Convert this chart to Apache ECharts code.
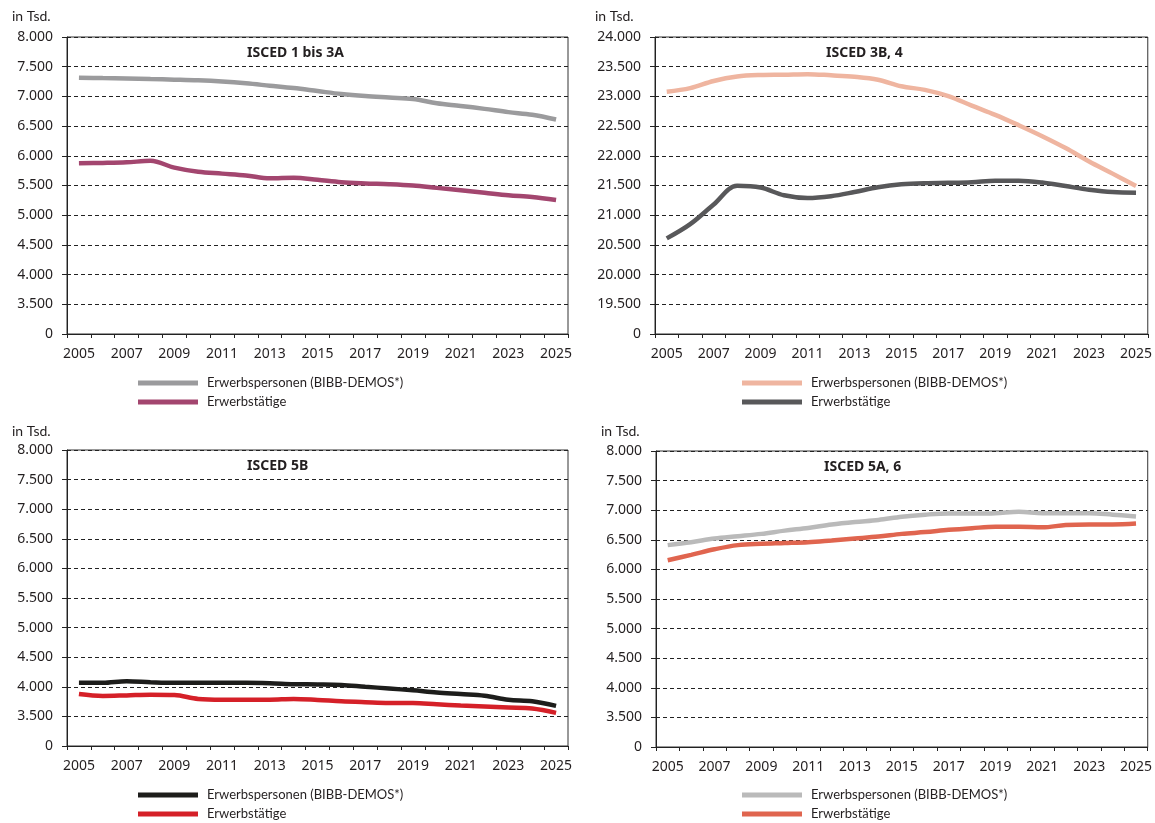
<!DOCTYPE html>
<html>
<head>
<meta charset="utf-8">
<script src="https://cdn.jsdelivr.net/npm/echarts@6/dist/echarts.min.js"></script>
<style>html,body{margin:0;padding:0;background:#fff}#c{width:1155px;height:823px}</style>
</head>
<body>
<div id="c"></div>
<script>
// ---- data ----
const years = ['2005','2006','2007','2008','2009','2010','2011','2012','2013','2014','2015','2016','2017','2018','2019','2020','2021','2022','2023','2024','2025'];

const seriesNames = ['Erwerbspersonen (BIBB-DEMOS*)', 'Erwerbstätige'];
const panelTitles = ['ISCED 1 bis 3A', 'ISCED 3B, 4', 'ISCED 5B', 'ISCED 5A, 6'];
const unitLabel = 'in Tsd.';

// ISCED 1 bis 3A
const p1Personen = [7315,7308,7302,7292,7282,7270,7250,7220,7180,7140,7090,7040,7005,6980,6955,6885,6840,6790,6735,6690,6610];
const p1Taetige  = [5875,5880,5890,5915,5800,5730,5700,5670,5620,5630,5595,5555,5535,5522,5500,5460,5420,5378,5335,5305,5255];
// ISCED 3B, 4
const p2Personen = [23080,23140,23260,23335,23360,23365,23375,23355,23330,23280,23170,23110,23005,22845,22690,22515,22330,22130,21905,21700,21490];
const p2Taetige  = [20610,20850,21180,21495,21465,21335,21290,21320,21390,21470,21520,21540,21545,21555,21580,21580,21550,21490,21430,21390,21380];
// ISCED 5B
const p3Personen = [4067,4067,4095,4078,4067,4067,4067,4067,4060,4045,4040,4030,4000,3972,3940,3905,3878,3850,3780,3755,3678];
const p3Taetige  = [3878,3845,3855,3867,3860,3795,3783,3783,3783,3795,3778,3755,3740,3728,3728,3705,3683,3667,3650,3633,3560];
// ISCED 5A, 6
const p4Personen = [6410,6460,6522,6560,6600,6655,6700,6757,6800,6835,6890,6925,6945,6945,6950,6972,6950,6950,6950,6925,6893];
const p4Taetige  = [6155,6245,6340,6410,6432,6445,6460,6490,6522,6555,6600,6630,6668,6697,6720,6720,6710,6750,6760,6760,6775];

// y-axis ranges (lowest value is shown as "0" -> broken axis)
const yMin = [3000, 19000, 3000, 3000];
const yMax = [8000, 24000, 8000, 8000];
const yStep = 500;

// ---- styling / layout ----
const colors = [
  ['#9b9b9d', '#a3466f'],
  ['#efb5a0', '#58585a'],
  ['#1d1d1b', '#d52028'],
  ['#bababa', '#e0654f']
];
const grids = [
  {left: 67, top: 37, width: 501, height: 297},
  {left: 655, top: 37, width: 495, height: 297},
  {left: 67, top: 450, width: 501, height: 296},
  {left: 656, top: 451, width: 493, height: 296}
];
const legendPos = [
  {left: 138, top: 375},
  {left: 742, top: 375},
  {left: 138, top: 787},
  {left: 742, top: 787}
];
const titlePos = [
  {left: 247, top: 46},
  {left: 826, top: 46},
  {left: 247, top: 459},
  {left: 824, top: 460}
];
const unitPos = [
  {left: 12, top: 9},
  {left: 595, top: 9},
  {left: 12, top: 424},
  {left: 601, top: 424}
];
const panels = [[p1Personen,p1Taetige],[p2Personen,p2Taetige],[p3Personen,p3Taetige],[p4Personen,p4Taetige]];

const numFont = "'Noto Sans', sans-serif";
const narrowFont = "Lato, 'Noto Sans', sans-serif";
const txt = '#231f20';

function fmt(v, min) {
  if (v === min) return '0';
  return String(v).replace(/\B(?=(\d{3})+(?!\d))/g, '.');
}

const option = {
  animation: false,
  backgroundColor: '#fff',
  title: [],
  legend: [],
  grid: [],
  xAxis: [],
  yAxis: [],
  series: []
};

panels.forEach((p, i) => {
  option.grid.push(Object.assign({show: true, borderColor: '#333', borderWidth: 1, containLabel: false}, grids[i]));
  option.title.push(Object.assign({text: panelTitles[i], padding: 0, textStyle: {fontFamily: numFont, fontSize: 14, fontWeight: 'bold', color: txt}}, titlePos[i]));
  option.title.push(Object.assign({text: unitLabel, padding: 0, textStyle: {fontFamily: narrowFont, fontSize: 14, fontWeight: 'normal', color: txt}}, unitPos[i]));
  option.xAxis.push({
    type: 'category', gridIndex: i, data: years, boundaryGap: true,
    axisLine: {lineStyle: {color: '#222', width: 1}},
    axisTick: {show: true, interval: 0, alignWithLabel: false, length: 4, lineStyle: {color: '#222'}},
    axisLabel: {interval: 1, margin: 13, fontFamily: numFont, fontSize: 14, color: txt},
    splitLine: {show: false}
  });
  const mn = yMin[i];
  option.yAxis.push({
    type: 'value', gridIndex: i, min: mn, max: yMax[i], interval: yStep,
    axisLine: {show: true, lineStyle: {color: '#222', width: 1}},
    axisTick: {show: true, length: 5, lineStyle: {color: '#222'}},
    axisLabel: {margin: 14, fontFamily: numFont, fontSize: 14, color: txt, formatter: v => fmt(v, mn)},
    splitLine: {show: true, lineStyle: {type: [4, 3], color: '#222', width: 1}}
  });
  const names = seriesNames.map(n => n + '|' + i);
  p.forEach((arr, k) => {
    option.series.push({
      name: names[k], type: 'line', xAxisIndex: i, yAxisIndex: i, data: arr,
      smooth: 0.35, showSymbol: false, symbol: 'none',
      lineStyle: {width: 4.5, color: colors[i][k]}, itemStyle: {color: colors[i][k]}
    });
  });
  option.legend.push(Object.assign({
    orient: 'vertical', data: names, icon: 'rect', itemWidth: 60, itemHeight: 5, itemGap: 3,
    padding: 0, selectedMode: false,
    formatter: n => n.split('|')[0],
    textStyle: {fontFamily: narrowFont, fontSize: 13, lineHeight: 16, color: txt, padding: [0, 0, 0, 4]}
  }, legendPos[i]));
});

const chart = echarts.init(document.getElementById('c'), null, {renderer: 'canvas'});
chart.setOption(option);
</script>
</body>
</html>
